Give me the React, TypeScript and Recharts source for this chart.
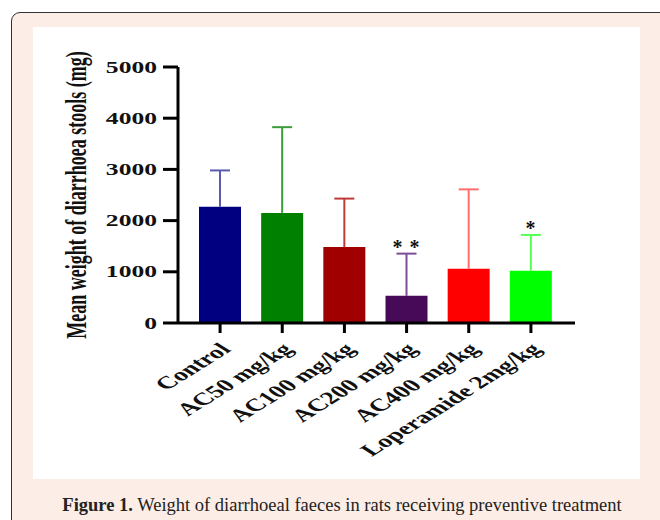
import React from 'react';
import { BarChart, Bar, XAxis, YAxis, Cell, ReferenceDot } from 'recharts';

const categories = ['Control', 'AC50 mg/kg', 'AC100 mg/kg', 'AC200 mg/kg', 'AC400 mg/kg', 'Loperamide 2mg/kg'];
const means = [2270, 2150, 1485, 530, 1060, 1020];
const errors = [710, 1675, 945, 825, 1550, 700];
const significance = ['', '', '', '* *', '', '*'];
const yTicks = [0, 1000, 2000, 3000, 4000, 5000];
const barColors = ['#000080', '#008000', '#a00000', '#470a58', '#ff0000', '#00ff00'];
const errorColors = ['#5a5ab0', '#3c9c3c', '#c03a3a', '#7c4c96', '#ff6e6e', '#55ff55'];

const data = categories.map((name, i) => ({ name, mean: means[i], err: errors[i] }));

const FONT = '"Liberation Serif", "Times New Roman", serif';
const STRETCH = 1.6;

const YTick = (props: any) => {
  const { x, y, payload } = props;
  return (
    <g transform={`translate(${x},${y}) scale(${STRETCH},1)`}>
      <text x={0} y={0} dy="0.35em" textAnchor="end" fontFamily={FONT} fontWeight="bold" fontSize={16} fill="#111">
        {payload.value}
      </text>
    </g>
  );
};

const XTick = (props: any) => {
  const { x, y, payload } = props;
  return (
    <g transform={`translate(${x - 3},${y + 6}) scale(${STRETCH},1) rotate(-45)`}>
      <text x={0} y={0} dy="0.75em" textAnchor="end" fontFamily={FONT} fontWeight="bold" fontSize={17.5} fill="#111">
        {payload.value}
      </text>
    </g>
  );
};

const YTitle = () => (
  <g transform={`translate(43,168) scale(${STRETCH},1) rotate(-90)`}>
    <text x={0} y={0} dy="0.35em" textAnchor="middle" fontFamily={FONT} fontWeight="bold" fontSize={18} fill="#111">
      Mean weight of diarrhoea stools (mg)
    </text>
  </g>
);

const ErrorShape = (props: any) => {
  const { x, y, width, height, fill } = props;
  const cx = x + width / 2;
  return (
    <g>
      <line x1={cx} x2={cx} y1={y + height} y2={y} stroke={fill} strokeWidth={2} />
      <line x1={cx - 10} x2={cx + 10} y1={y} y2={y} stroke={fill} strokeWidth={2} />
    </g>
  );
};

const Stars = (label: string) => (props: any) => {
  const { cx, cy } = props;
  return (
    <text x={cx} y={cy} textAnchor="middle" fontFamily={FONT} fontWeight="bold" fontSize={20} letterSpacing={1} fill="#111">
      {label}
    </text>
  );
};

export default function App() {
  return (
    <div style={{ position: 'absolute', left: 0, top: 0, width: 660, height: 520, overflow: 'hidden', background: '#fff' }}>
      <div
        style={{
          position: 'absolute',
          left: 11,
          top: 12,
          width: 700,
          height: 560,
          border: '1px solid #333',
          borderRadius: 9,
          background: '#fcede6',
        }}
      />
      <div style={{ position: 'absolute', left: 33, top: 27, width: 607, height: 452, background: '#fff' }}>
        <BarChart width={607} height={452} data={data} margin={{ top: 40, right: 65, left: 0, bottom: 0 }} barSize={42}>
          <XAxis
            dataKey="name"
            interval={0}
            height={156}
            padding={{ left: 11, right: 13 }}
            axisLine={{ stroke: '#000', strokeWidth: 3 }}
            tickLine={{ stroke: '#000', strokeWidth: 3 }}
            tickSize={10}
            tickMargin={2}
            tick={<XTick />}
          />
          <YAxis
            width={145}
            domain={[0, 5000]}
            ticks={yTicks}
            interval={0}
            axisLine={{ stroke: '#000', strokeWidth: 3 }}
            tickLine={{ stroke: '#000', strokeWidth: 3 }}
            tickSize={15}
            tickMargin={6}
            tick={<YTick />}
            label={{ content: <YTitle /> }}
          />
          <Bar dataKey="mean" stackId="s" isAnimationActive={false}>
            {categories.map((c, i) => (
              <Cell key={c} fill={barColors[i]} />
            ))}
          </Bar>
          <Bar dataKey="err" stackId="s" isAnimationActive={false} shape={<ErrorShape />}>
            {categories.map((c, i) => (
              <Cell key={'e' + c} fill={errorColors[i]} />
            ))}
          </Bar>
          {categories.map((c, i) =>
            significance[i] ? (
              <ReferenceDot
                key={'s' + c}
                x={c}
                y={means[i] + errors[i]}
                r={0}
                shape={Stars(significance[i])}
              />
            ) : null
          )}
        </BarChart>
      </div>
      <div
        style={{
          position: 'absolute',
          left: 11,
          width: 662,
          top: 495,
          textAlign: 'center',
          fontFamily: FONT,
          fontSize: 18.5,
          color: '#222',
          whiteSpace: 'nowrap',
        }}
      >
        <b>Figure 1.</b> Weight of diarrhoeal faeces in rats receiving preventive treatment
      </div>
    </div>
  );
}
